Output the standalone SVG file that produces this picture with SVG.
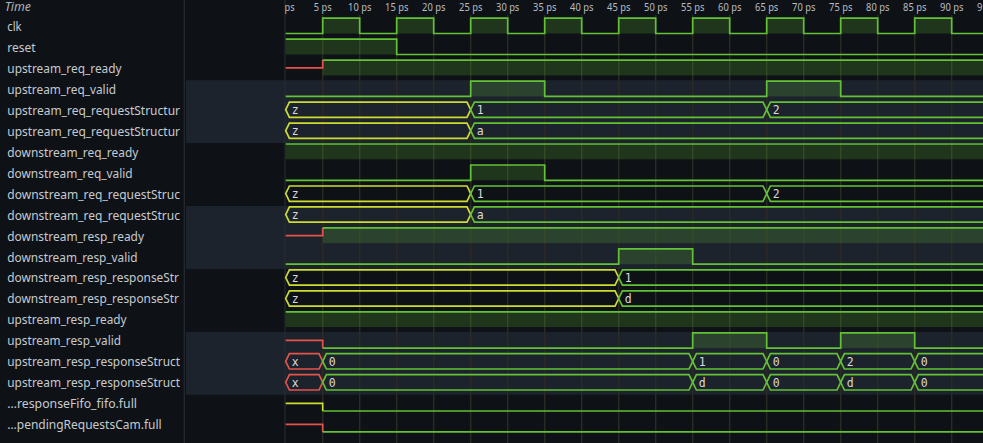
<svg xmlns="http://www.w3.org/2000/svg" width="983" height="443" viewBox="0 0 983 443">
<defs>
<style>
.bg{fill:#0e1217}
.band{fill:#1d232d}
.sep{stroke:#262b32;stroke-width:1.2}
.grid{stroke:#2b2a24;stroke-width:1.5}
.w{fill:none;stroke-width:1.7;stroke-linejoin:miter}
.g{stroke:#62c234}
.y{stroke:#cddc30}
.r{stroke:#e5534b}
.f{fill:#62c234;fill-opacity:0.2}
.name{font-family:"Noto Sans","DejaVu Sans",sans-serif;font-size:13px;fill:#c6cacf}
.val{font-family:"DejaVu Sans Mono","Liberation Mono",monospace;font-size:11.5px;fill:#d8d8d8}
.tl{font-family:"Noto Sans","DejaVu Sans",sans-serif;font-size:11px;fill:#b9bdc2;text-anchor:middle}
.hdr{font-family:"Noto Sans","DejaVu Sans",sans-serif;font-size:13px;font-style:italic;fill:#aeb3b9}
</style>
<clipPath id="wclip"><rect x="285" y="0" width="698" height="443"/></clipPath>
</defs>
<rect class="bg" x="0" y="0" width="983" height="443"/>
<g id="bands">
<rect class="band" x="186" y="80.2" width="797" height="62.9"/>
<rect class="band" x="186" y="206.0" width="797" height="63.0"/>
<rect class="band" x="186" y="331.9" width="797" height="62.9"/>
</g>
<g id="separators">
<line class="sep" x1="184.3" y1="0" x2="184.3" y2="443"/>
<line class="sep" x1="285" y1="0" x2="285" y2="443"/>
</g>
<g id="grid">
<line class="grid" x1="322.7" y1="15" x2="322.7" y2="443"/>
<line class="grid" x1="359.7" y1="15" x2="359.7" y2="443"/>
<line class="grid" x1="396.7" y1="15" x2="396.7" y2="443"/>
<line class="grid" x1="433.7" y1="15" x2="433.7" y2="443"/>
<line class="grid" x1="470.7" y1="15" x2="470.7" y2="443"/>
<line class="grid" x1="507.7" y1="15" x2="507.7" y2="443"/>
<line class="grid" x1="544.7" y1="15" x2="544.7" y2="443"/>
<line class="grid" x1="581.7" y1="15" x2="581.7" y2="443"/>
<line class="grid" x1="618.7" y1="15" x2="618.7" y2="443"/>
<line class="grid" x1="655.7" y1="15" x2="655.7" y2="443"/>
<line class="grid" x1="692.7" y1="15" x2="692.7" y2="443"/>
<line class="grid" x1="729.7" y1="15" x2="729.7" y2="443"/>
<line class="grid" x1="766.7" y1="15" x2="766.7" y2="443"/>
<line class="grid" x1="803.7" y1="15" x2="803.7" y2="443"/>
<line class="grid" x1="840.7" y1="15" x2="840.7" y2="443"/>
<line class="grid" x1="877.7" y1="15" x2="877.7" y2="443"/>
<line class="grid" x1="914.7" y1="15" x2="914.7" y2="443"/>
<line class="grid" x1="951.7" y1="15" x2="951.7" y2="443"/>
</g>
<g id="timeaxis" clip-path="url(#wclip)">
<text class="tl" x="285.7" y="10.7" textLength="17.7" lengthAdjust="spacingAndGlyphs">0 ps</text>
<text class="tl" x="322.7" y="10.7" textLength="17.7" lengthAdjust="spacingAndGlyphs">5 ps</text>
<text class="tl" x="359.7" y="10.7" textLength="23.3" lengthAdjust="spacingAndGlyphs">10 ps</text>
<text class="tl" x="396.7" y="10.7" textLength="23.3" lengthAdjust="spacingAndGlyphs">15 ps</text>
<text class="tl" x="433.7" y="10.7" textLength="23.3" lengthAdjust="spacingAndGlyphs">20 ps</text>
<text class="tl" x="470.7" y="10.7" textLength="23.3" lengthAdjust="spacingAndGlyphs">25 ps</text>
<text class="tl" x="507.7" y="10.7" textLength="23.3" lengthAdjust="spacingAndGlyphs">30 ps</text>
<text class="tl" x="544.7" y="10.7" textLength="23.3" lengthAdjust="spacingAndGlyphs">35 ps</text>
<text class="tl" x="581.7" y="10.7" textLength="23.3" lengthAdjust="spacingAndGlyphs">40 ps</text>
<text class="tl" x="618.7" y="10.7" textLength="23.3" lengthAdjust="spacingAndGlyphs">45 ps</text>
<text class="tl" x="655.7" y="10.7" textLength="23.3" lengthAdjust="spacingAndGlyphs">50 ps</text>
<text class="tl" x="692.7" y="10.7" textLength="23.3" lengthAdjust="spacingAndGlyphs">55 ps</text>
<text class="tl" x="729.7" y="10.7" textLength="23.3" lengthAdjust="spacingAndGlyphs">60 ps</text>
<text class="tl" x="766.7" y="10.7" textLength="23.3" lengthAdjust="spacingAndGlyphs">65 ps</text>
<text class="tl" x="803.7" y="10.7" textLength="23.3" lengthAdjust="spacingAndGlyphs">70 ps</text>
<text class="tl" x="840.7" y="10.7" textLength="23.3" lengthAdjust="spacingAndGlyphs">75 ps</text>
<text class="tl" x="877.7" y="10.7" textLength="23.3" lengthAdjust="spacingAndGlyphs">80 ps</text>
<text class="tl" x="914.7" y="10.7" textLength="23.3" lengthAdjust="spacingAndGlyphs">85 ps</text>
<text class="tl" x="951.7" y="10.7" textLength="23.3" lengthAdjust="spacingAndGlyphs">90 ps</text>
<text class="tl" x="988.7" y="10.7" textLength="23.3" lengthAdjust="spacingAndGlyphs">95 ps</text>
</g>
<text class="hdr" x="4.7" y="10.7" textLength="26.3" lengthAdjust="spacingAndGlyphs">Time</text>

<g id="sig-clk">
<text class="name" x="7.3" y="30.8" textLength="14.3" lengthAdjust="spacingAndGlyphs">clk</text>
<rect class="f" x="322.7" y="18.2" width="37" height="15.3"/><rect class="f" x="396.7" y="18.2" width="37" height="15.3"/><rect class="f" x="470.7" y="18.2" width="37" height="15.3"/><rect class="f" x="544.7" y="18.2" width="37" height="15.3"/><rect class="f" x="618.7" y="18.2" width="37" height="15.3"/><rect class="f" x="692.7" y="18.2" width="37" height="15.3"/><rect class="f" x="766.7" y="18.2" width="37" height="15.3"/><rect class="f" x="840.7" y="18.2" width="37" height="15.3"/><rect class="f" x="914.7" y="18.2" width="37" height="15.3"/>
<path class="w g" d="M285.7,33.5 H322.7 V18.2 H359.7 V33.5 H396.7 V18.2 H433.7 V33.5 H470.7 V18.2 H507.7 V33.5 H544.7 V18.2 H581.7 V33.5 H618.7 V18.2 H655.7 V33.5 H692.7 V18.2 H729.7 V33.5 H766.7 V18.2 H803.7 V33.5 H840.7 V18.2 H877.7 V33.5 H914.7 V18.2 H951.7 V33.5 H990"/>
</g>
<g id="sig-reset">
<text class="name" x="7.3" y="51.8" textLength="28.3" lengthAdjust="spacingAndGlyphs">reset</text>
<rect class="f" x="285.7" y="39.2" width="111" height="15.3"/>
<path class="w g" d="M285.7,39.2 H396.7 V54.5 H990"/>
</g>
<g id="sig-upstream_req_ready">
<text class="name" x="7.3" y="72.7" textLength="114.3" lengthAdjust="spacingAndGlyphs">upstream_req_ready</text>
<rect class="f" x="322.7" y="60.1" width="670" height="15.3"/>
<path class="w r" d="M285.7,67.8 H322.7 V60.1"/>
<path class="w g" d="M322.7,60.1 H990"/>
</g>
<g id="sig-upstream_req_valid">
<text class="name" x="7.3" y="93.7" textLength="108.7" lengthAdjust="spacingAndGlyphs">upstream_req_valid</text>
<rect class="f" x="470.7" y="81.1" width="74" height="15.3"/><rect class="f" x="766.7" y="81.1" width="74" height="15.3"/>
<path class="w g" d="M285.7,96.4 H470.7 V81.1 H544.7 V96.4 H766.7 V81.1 H840.7 V96.4 H990"/>
</g>
<g id="sig-upstream_req_requestStructure_1">
<text class="name" x="7.3" y="114.7" textLength="172.7" lengthAdjust="spacingAndGlyphs">upstream_req_requestStructur</text>
<polygon class="w y" points="285.7,109.7 289.4,102.1 467,102.1 470.7,109.7 467,117.4 289.4,117.4"/>
<polygon class="w g" points="470.7,109.7 474.4,102.1 763,102.1 766.7,109.7 763,117.4 474.4,117.4"/>
<path class="w g" d="M990,102.1 H770.4 L766.7,109.7 L770.4,117.4 H990"/>
<text class="val" x="291.7" y="114.0">z</text><text class="val" x="476.7" y="114.0">1</text><text class="val" x="772.7" y="114.0">2</text>
</g>
<g id="sig-upstream_req_requestStructure_2">
<text class="name" x="7.3" y="135.7" textLength="172.7" lengthAdjust="spacingAndGlyphs">upstream_req_requestStructur</text>
<polygon class="w y" points="285.7,130.7 289.4,123.1 467,123.1 470.7,130.7 467,138.4 289.4,138.4"/>
<path class="w g" d="M990,123.1 H474.4 L470.7,130.7 L474.4,138.4 H990"/>
<text class="val" x="291.7" y="135.0">z</text><text class="val" x="476.7" y="135.0">a</text>
</g>
<g id="sig-downstream_req_ready">
<text class="name" x="7.3" y="156.6" textLength="131" lengthAdjust="spacingAndGlyphs">downstream_req_ready</text>
<rect class="f" x="285.7" y="144.0" width="707" height="15.3"/>
<path class="w g" d="M285.7,144.0 H990"/>
</g>
<g id="sig-downstream_req_valid">
<text class="name" x="7.3" y="177.6" textLength="125.3" lengthAdjust="spacingAndGlyphs">downstream_req_valid</text>
<rect class="f" x="470.7" y="165.0" width="74" height="15.3"/>
<path class="w g" d="M285.7,180.3 H470.7 V165.0 H544.7 V180.3 H990"/>
</g>
<g id="sig-downstream_req_requestStruc_1">
<text class="name" x="7.3" y="198.6" textLength="172.7" lengthAdjust="spacingAndGlyphs">downstream_req_requestStruc</text>
<polygon class="w y" points="285.7,193.6 289.4,186.0 467,186.0 470.7,193.6 467,201.3 289.4,201.3"/>
<polygon class="w g" points="470.7,193.6 474.4,186.0 763,186.0 766.7,193.6 763,201.3 474.4,201.3"/>
<path class="w g" d="M990,186.0 H770.4 L766.7,193.6 L770.4,201.3 H990"/>
<text class="val" x="291.7" y="197.9">z</text><text class="val" x="476.7" y="197.9">1</text><text class="val" x="772.7" y="197.9">2</text>
</g>
<g id="sig-downstream_req_requestStruc_2">
<text class="name" x="7.3" y="219.5" textLength="172.7" lengthAdjust="spacingAndGlyphs">downstream_req_requestStruc</text>
<polygon class="w y" points="285.7,214.6 289.4,206.9 467,206.9 470.7,214.6 467,222.2 289.4,222.2"/>
<path class="w g" d="M990,206.9 H474.4 L470.7,214.6 L474.4,222.2 H990"/>
<text class="val" x="291.7" y="218.8">z</text><text class="val" x="476.7" y="218.8">a</text>
</g>
<g id="sig-downstream_resp_ready">
<text class="name" x="7.3" y="240.5" textLength="136.7" lengthAdjust="spacingAndGlyphs">downstream_resp_ready</text>
<rect class="f" x="322.7" y="227.9" width="670" height="15.3"/>
<path class="w r" d="M285.7,235.6 H322.7 V227.9"/>
<path class="w g" d="M322.7,227.9 H990"/>
</g>
<g id="sig-downstream_resp_valid">
<text class="name" x="7.3" y="261.5" textLength="130.3" lengthAdjust="spacingAndGlyphs">downstream_resp_valid</text>
<rect class="f" x="618.7" y="248.9" width="74" height="15.3"/>
<path class="w g" d="M285.7,264.2 H618.7 V248.9 H692.7 V264.2 H990"/>
</g>
<g id="sig-downstream_resp_responseStr_1">
<text class="name" x="7.3" y="282.4" textLength="171.7" lengthAdjust="spacingAndGlyphs">downstream_resp_responseStr</text>
<polygon class="w y" points="285.7,277.5 289.4,269.8 615,269.8 618.7,277.5 615,285.1 289.4,285.1"/>
<path class="w g" d="M990,269.8 H622.4 L618.7,277.5 L622.4,285.1 H990"/>
<text class="val" x="291.7" y="281.7">z</text><text class="val" x="624.7" y="281.7">1</text>
</g>
<g id="sig-downstream_resp_responseStr_2">
<text class="name" x="7.3" y="303.4" textLength="171.7" lengthAdjust="spacingAndGlyphs">downstream_resp_responseStr</text>
<polygon class="w y" points="285.7,298.5 289.4,290.8 615,290.8 618.7,298.5 615,306.1 289.4,306.1"/>
<path class="w g" d="M990,290.8 H622.4 L618.7,298.5 L622.4,306.1 H990"/>
<text class="val" x="291.7" y="302.7">z</text><text class="val" x="624.7" y="302.7">d</text>
</g>
<g id="sig-upstream_resp_ready">
<text class="name" x="7.3" y="324.4" textLength="119.3" lengthAdjust="spacingAndGlyphs">upstream_resp_ready</text>
<rect class="f" x="285.7" y="311.8" width="707" height="15.3"/>
<path class="w g" d="M285.7,311.8 H990"/>
</g>
<g id="sig-upstream_resp_valid">
<text class="name" x="7.3" y="345.4" textLength="113.7" lengthAdjust="spacingAndGlyphs">upstream_resp_valid</text>
<rect class="f" x="692.7" y="332.8" width="74" height="15.3"/><rect class="f" x="840.7" y="332.8" width="74" height="15.3"/>
<path class="w r" d="M285.7,340.4 H322.7 V348.1"/>
<path class="w g" d="M322.7,348.1 H692.7 V332.8 H766.7 V348.1 H840.7 V332.8 H914.7 V348.1 H990"/>
</g>
<g id="sig-upstream_resp_responseStruct_1">
<text class="name" x="7.3" y="366.3" textLength="172.7" lengthAdjust="spacingAndGlyphs">upstream_resp_responseStruct</text>
<polygon class="w r" points="285.7,361.4 289.4,353.7 319,353.7 322.7,361.4 319,369.0 289.4,369.0"/>
<polygon class="w g" points="322.7,361.4 326.4,353.7 689,353.7 692.7,361.4 689,369.0 326.4,369.0"/>
<polygon class="w g" points="692.7,361.4 696.4,353.7 763,353.7 766.7,361.4 763,369.0 696.4,369.0"/>
<polygon class="w g" points="766.7,361.4 770.4,353.7 837,353.7 840.7,361.4 837,369.0 770.4,369.0"/>
<polygon class="w g" points="840.7,361.4 844.4,353.7 911,353.7 914.7,361.4 911,369.0 844.4,369.0"/>
<path class="w g" d="M990,353.7 H918.4 L914.7,361.4 L918.4,369.0 H990"/>
<text class="val" x="291.7" y="365.6">x</text><text class="val" x="328.7" y="365.6">0</text><text class="val" x="698.7" y="365.6">1</text><text class="val" x="772.7" y="365.6">0</text><text class="val" x="846.7" y="365.6">2</text><text class="val" x="920.7" y="365.6">0</text>
</g>
<g id="sig-upstream_resp_responseStruct_2">
<text class="name" x="7.3" y="387.3" textLength="172.7" lengthAdjust="spacingAndGlyphs">upstream_resp_responseStruct</text>
<polygon class="w r" points="285.7,382.3 289.4,374.7 319,374.7 322.7,382.3 319,390.0 289.4,390.0"/>
<polygon class="w g" points="322.7,382.3 326.4,374.7 689,374.7 692.7,382.3 689,390.0 326.4,390.0"/>
<polygon class="w g" points="692.7,382.3 696.4,374.7 763,374.7 766.7,382.3 763,390.0 696.4,390.0"/>
<polygon class="w g" points="766.7,382.3 770.4,374.7 837,374.7 840.7,382.3 837,390.0 770.4,390.0"/>
<polygon class="w g" points="840.7,382.3 844.4,374.7 911,374.7 914.7,382.3 911,390.0 844.4,390.0"/>
<path class="w g" d="M990,374.7 H918.4 L914.7,382.3 L918.4,390.0 H990"/>
<text class="val" x="291.7" y="386.6">x</text><text class="val" x="328.7" y="386.6">0</text><text class="val" x="698.7" y="386.6">d</text><text class="val" x="772.7" y="386.6">0</text><text class="val" x="846.7" y="386.6">d</text><text class="val" x="920.7" y="386.6">0</text>
</g>
<g id="sig-responseFifo_fifo_full">
<text class="name" x="7.3" y="408.3" textLength="129.7" lengthAdjust="spacingAndGlyphs">…responseFifo_fifo.full</text>
<path class="w y" d="M285.7,403.3 H322.7 V411.0"/>
<path class="w g" d="M322.7,411.0 H990"/>
</g>
<g id="sig-pendingRequestsCam_full">
<text class="name" x="7.3" y="429.2" textLength="154.3" lengthAdjust="spacingAndGlyphs">…pendingRequestsCam.full</text>
<path class="w r" d="M285.7,424.3 H322.7 V431.9"/>
<path class="w g" d="M322.7,431.9 H990"/>
</g>
</svg>
